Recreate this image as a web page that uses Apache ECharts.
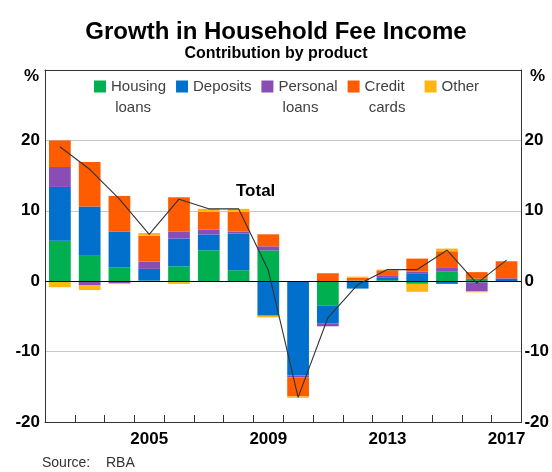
<!DOCTYPE html>
<html>
<head>
<meta charset="utf-8">
<script src="https://cdn.jsdelivr.net/npm/echarts@6/dist/echarts.min.js"></script>
<style>
html,body{margin:0;padding:0;background:#fff;}
#chart{width:552px;height:472px;}
</style>
</head>
<body>
<div id="chart"></div>
<script>
// ---- data ----
const years = ['2002','2003','2004','2005','2006','2007','2008','2009','2010','2011','2012','2013','2014','2015','2016','2017'];
const housingLoans  = [5.75, 3.63, 1.93, 0.10, 2.12, 4.39, 1.56, 4.39, 0.00, -3.44, 0.10, 0.14, -0.38, 1.42, 0.35, 0.00];
const deposits      = [7.64, 6.98, 5.09, 1.65, 3.96, 2.26, 5.19, -4.90, -13.40, -2.59, -1.05, 0.33, 1.04, -0.38, -0.19, 0.33];
const personalLoans = [2.83, -0.60, -0.28, 1.04, 0.94, 0.66, 0.28, 0.57, -0.28, -0.38, 0.00, 0.38, 0.33, 0.57, -1.25, 0.10];
const creditCards   = [3.77, 6.32, 5.09, 3.68, 4.90, 2.55, 2.83, 1.70, -2.69, 1.13, 0.40, 0.70, 1.84, 2.26, 0.94, 2.40];
const other         = [-0.85, -0.66, -0.14, 0.38, -0.38, 0.42, 0.42, -0.24, -0.19, 0.00, 0.15, 0.10, -1.13, 0.38, -0.14, -0.10];
const total         = [19.1, 15.9, 11.65, 6.65, 11.65, 10.28, 10.28, 1.55, -16.5, -5.2, -0.5, 1.65, 1.65, 4.4, -0.3, 3.0];
const yTicks = [-20, -10, 0, 10, 20];
const seriesNames = ['Housing\n loans', 'Deposits', 'Personal\n loans', 'Credit\n cards', 'Other'];

const FONT = '"Liberation Sans", Arial, Helvetica, sans-serif';
const colors = ['#00B050', '#0070CC', '#8A4DB6', '#FF5B00', '#FFB612'];
const barData = [housingLoans, deposits, personalLoans, creditCards, other];

const chart = echarts.init(document.getElementById('chart'), null, {renderer: 'canvas'});

const barSeries = seriesNames.map((n, i) => ({
  name: n,
  type: 'bar',
  stack: 'fees',
  data: barData[i],
  barCategoryGap: '27%',
  itemStyle: {color: colors[i]},
  emphasis: {disabled: true}
}));

const option = {
  animation: false,
  textStyle: {fontFamily: FONT},
  title: {
    text: 'Growth in Household Fee Income',
    subtext: 'Contribution by product',
    left: 'center',
    top: 15,
    itemGap: 2,
    textStyle: {fontFamily: FONT, fontSize: 24, fontWeight: 'bold', color: '#000'},
    subtextStyle: {fontFamily: FONT, fontSize: 16, fontWeight: 'bold', color: '#000'}
  },
  legend: {
    data: seriesNames.map(n => n.indexOf('Credit') === 0 ? {name: n, textStyle: {width: 50}} : n),
    formatter: n => (n.indexOf('\n') >= 0 ? '\n' + n : n),
    left: 94,
    top: 55,
    padding: 0,
    itemWidth: 12,
    itemHeight: 12,
    itemGap: 10,
    icon: 'rect',
    selectedMode: false,
    textStyle: {fontFamily: FONT, fontSize: 15, color: '#404040', lineHeight: 21}
  },
  grid: {left: 45, right: 27, top: 70, bottom: 50, containLabel: false},
  xAxis: [{
    type: 'category',
    data: years,
    position: 'bottom',
    boundaryGap: true,
    axisLine: {onZero: false, lineStyle: {color: '#333', width: 1}},
    axisTick: {show: true, interval: 0, inside: true, length: 7, alignWithLabel: false, lineStyle: {color: '#333'}},
    axisLabel: {
      interval: (idx, val) => (Number(val) - 2005) % 4 === 0,
      fontFamily: FONT, fontSize: 17, fontWeight: 'bold', color: '#000', margin: 9
    },
    splitLine: {show: false}
  }, {
    type: 'category',
    data: years,
    position: 'top',
    axisLine: {onZero: false, lineStyle: {color: '#333', width: 1}},
    axisTick: {show: false},
    axisLabel: {show: false},
    splitLine: {show: false}
  }],
  yAxis: [{
    type: 'value',
    min: -20, max: 30, interval: 10,
    position: 'left',
    axisLine: {show: true, onZero: false, lineStyle: {color: '#333'}},
    axisTick: {show: false},
    axisLabel: {formatter: v => (yTicks.indexOf(v) >= 0 ? String(v) : ''), fontFamily: FONT, fontSize: 17, fontWeight: 'bold', color: '#000', margin: 5},
    splitLine: {show: true, lineStyle: {color: '#c8c8c8', width: 1}}
  }, {
    type: 'value',
    min: -20, max: 30, interval: 10,
    position: 'right',
    axisLine: {show: true, onZero: false, lineStyle: {color: '#333'}},
    axisTick: {show: false},
    axisLabel: {formatter: v => (yTicks.indexOf(v) >= 0 ? String(v) : ''), fontFamily: FONT, fontSize: 17, fontWeight: 'bold', color: '#000', margin: 3},
    splitLine: {show: false}
  }],
  series: barSeries.concat([{
    name: 'Total',
    type: 'line',
    data: total,
    symbol: 'none',
    z: 5,
    lineStyle: {color: '#333', width: 1.1},
    emphasis: {disabled: true},
    markLine: {
      silent: true,
      symbol: 'none',
      label: {show: false},
      lineStyle: {color: '#000', width: 1, type: 'solid'},
      data: [{yAxis: 0}]
    }
  }]),
  graphic: [
    {type: 'text', left: 24, top: 68, style: {text: '%', font: 'bold 17px ' + FONT, fill: '#000'}},
    {type: 'text', left: 530, top: 68, style: {text: '%', font: 'bold 17px ' + FONT, fill: '#000'}},
    {type: 'text', left: 236, top: 183, style: {text: 'Total', font: 'bold 17px ' + FONT, fill: '#000'}},
    {type: 'text', left: 42, top: 456, style: {text: 'Source:', font: '14px ' + FONT, fill: '#333'}},
    {type: 'text', left: 106, top: 456, style: {text: 'RBA', font: '14px ' + FONT, fill: '#333'}}
  ]
};
chart.setOption(option);
</script>
</body>
</html>
